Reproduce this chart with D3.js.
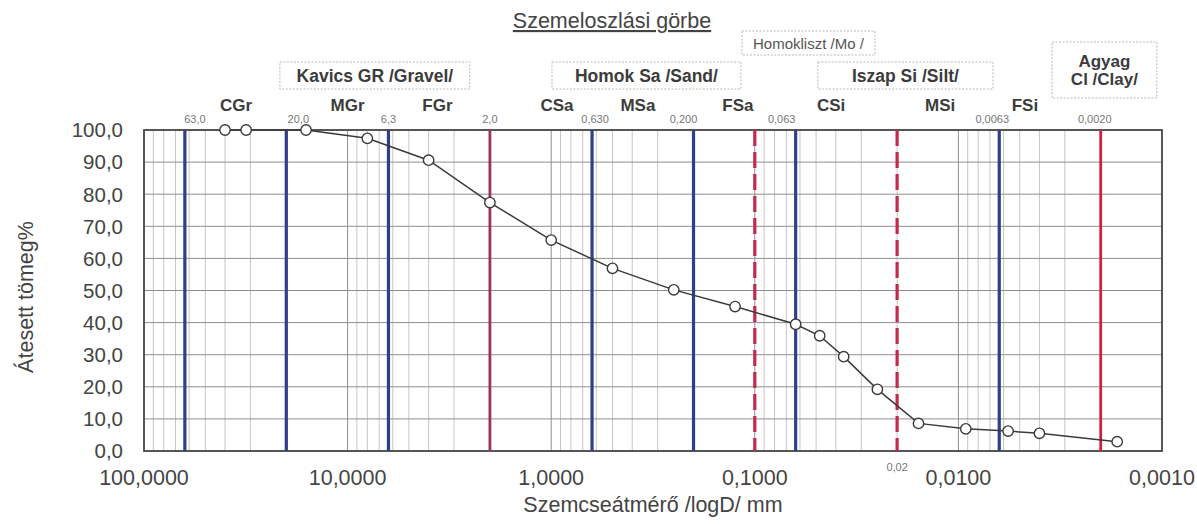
<!DOCTYPE html>
<html>
<head>
<meta charset="utf-8">
<script src="https://cdn.jsdelivr.net/npm/d3@7"></script>
<style>
  html, body { margin: 0; padding: 0; background: #fff; }
  svg { display: block; font-family: "Liberation Sans", Arial, sans-serif; }
</style>
</head>
<body>
<svg id="chart" width="1197" height="524"></svg>
<script>
// ---- data ----
const diameters = [40, 31.5, 16, 8, 4, 2, 1, 0.5, 0.25, 0.125, 0.063, 0.048, 0.0366, 0.025, 0.0157, 0.0092, 0.0057, 0.004, 0.00166];
const passing   = [100, 100, 100, 97.4, 90.6, 77.4, 65.7, 56.9, 50.2, 45.0, 39.5, 35.9, 29.4, 19.2, 8.6, 6.9, 6.2, 5.5, 2.9];

const yTicks = [0, 10, 20, 30, 40, 50, 60, 70, 80, 90, 100];
const xTicks = [100, 10, 1, 0.1, 0.01, 0.001];
const xTickLabels = ["100,0000", "10,0000", "1,0000", "0,1000", "0,0100", "0,0010"];

const blueBounds = [63, 20, 6.3, 0.63, 0.2, 0.063, 0.0063];
const redBounds = [2, 0.002];
const redDashedBounds = [0.1, 0.02];

const boundLabelValues = [63, 20, 6.3, 2, 0.63, 0.2, 0.063, 0.0063, 0.002];
const boundLabelTexts  = ["63,0", "20,0", "6,3", "2,0", "0,630", "0,200", "0,063", "0,0063", "0,0020"];
const siltClayLabel = ["0,02"];
const siltClayValue = [0.02];

const fractionNames   = ["CGr", "MGr", "FGr", "CSa", "MSa", "FSa", "CSi", "MSi", "FSi"];
const fractionAnchors = [35.3, 10.0, 3.62, 0.937, 0.375, 0.121, 0.0422, 0.0123, 0.00471];

const groupNames  = ["Kavics GR /Gravel/", "Homok Sa /Sand/", "Iszap Si /Silt/"];
const groupRanges = [[21.5, 2.51], [0.991, 0.117], [0.049, 0.00676]];
const moName = "Homokliszt /Mo /";
const moRange = [0.1156, 0.0257];
const clayLines = ["Agyag", "Cl /Clay/"];
const clayRange = [0.00347, 0.00106];

const title = "Szemeloszlási görbe";
const xTitle = "Szemcseátmérő /logD/ mm";
const yTitle = "Átesett tömeg%";

// ---- layout ----
const L = 144, R = 1162, T = 130, B = 451;
const svg = d3.select("#chart");

const x = d3.scaleLog().domain([100, 0.001]).range([L, R]);
const y = d3.scaleLinear().domain([0, 100]).range([B, T]);

// minor vertical gridlines (log 1..9 per decade)
const minor = [];
for (let e = -3; e < 2; e++) for (let m = 1; m <= 9; m++) minor.push(m * Math.pow(10, e));
minor.push(100);
const isDecade = d => Math.abs(Math.log10(d) - Math.round(Math.log10(d))) < 1e-9;
svg.append("g").selectAll("line").data(minor).join("line")
  .attr("x1", d => x(d)).attr("x2", d => x(d))
  .attr("y1", T).attr("y2", B)
  .attr("stroke", d => isDecade(d) ? "#8f8f8f" : "#c6c6c6")
  .attr("stroke-width", 1);

// horizontal gridlines
svg.append("g").selectAll("line").data(yTicks).join("line")
  .attr("x1", L).attr("x2", R)
  .attr("y1", d => y(d)).attr("y2", d => y(d))
  .attr("stroke", "#8f8f8f").attr("stroke-width", 1);

// plot frame
svg.append("rect").attr("x", L).attr("y", T).attr("width", R - L).attr("height", B - T)
  .attr("fill", "none").attr("stroke", "#4a4a4a").attr("stroke-width", 1.8);

// boundary lines
svg.append("g").selectAll("line").data(blueBounds).join("line")
  .attr("x1", d => x(d)).attr("x2", d => x(d)).attr("y1", T).attr("y2", B)
  .attr("stroke", "#2f3f8c").attr("stroke-width", 3.2);
svg.append("g").selectAll("line").data(redBounds).join("line")
  .attr("x1", d => x(d)).attr("x2", d => x(d)).attr("y1", T).attr("y2", B)
  .attr("stroke", (d, i) => i === 0 ? "#9c3550" : "#d0203f").attr("stroke-width", 2.8);
svg.append("g").selectAll("line").data(redDashedBounds).join("line")
  .attr("x1", d => x(d)).attr("x2", d => x(d)).attr("y1", T).attr("y2", B)
  .attr("stroke", "#c4284a").attr("stroke-width", 3.2)
  .attr("stroke-dasharray", "16,6");

// tick labels
svg.append("g").selectAll("text").data(yTicks).join("text")
  .attr("x", L - 21).attr("y", d => y(d)).attr("dy", "0.36em")
  .attr("text-anchor", "end").attr("font-size", 20.5).attr("fill", "#444")
  .text(d => d3.format(".1f")(d).replace(".", ","));

svg.append("g").selectAll("text").data(xTicks).join("text")
  .attr("x", d => x(d)).attr("y", B + 34)
  .attr("text-anchor", "middle").attr("font-size", 21.5).attr("fill", "#444")
  .text((d, i) => xTickLabels[i]);

// axis titles
svg.append("text").attr("x", (L + R) / 2).attr("y", B + 61)
  .attr("text-anchor", "middle").attr("font-size", 21.5).attr("fill", "#444").text(xTitle);

svg.append("text").attr("transform", `translate(33,297) rotate(-90)`)
  .attr("text-anchor", "middle").attr("font-size", 21.5).attr("fill", "#444").text(yTitle);

// curve
const pts = diameters.map((d, i) => [d, passing[i]]);
svg.append("path").datum(pts)
  .attr("d", d3.line().x(d => x(d[0])).y(d => y(d[1])))
  .attr("fill", "none").attr("stroke", "#3a3a3a").attr("stroke-width", 1.5);
svg.append("g").selectAll("circle").data(pts).join("circle")
  .attr("cx", d => x(d[0])).attr("cy", d => y(d[1])).attr("r", 5.2)
  .attr("fill", "#fff").attr("stroke", "#3a3a3a").attr("stroke-width", 1.4);

// boundary value labels (small, above plot)
const boundLabelShift = [10, 12, 0, 0, 3, -10, -14, -7, -6];
svg.append("g").selectAll("text").data(boundLabelValues).join("text")
  .attr("x", (d, i) => x(d) + boundLabelShift[i]).attr("y", T - 7)
  .attr("text-anchor", "middle").attr("font-size", 11).attr("fill", "#777")
  .text((d, i) => boundLabelTexts[i]);
svg.append("g").selectAll("text").data(siltClayValue).join("text")
  .attr("x", d => x(d)).attr("y", B + 20)
  .attr("text-anchor", "middle").attr("font-size", 11).attr("fill", "#777")
  .text((d, i) => siltClayLabel[i]);

// fraction names
svg.append("g").selectAll("text").data(fractionAnchors).join("text")
  .attr("x", d => x(d)).attr("y", T - 19)
  .attr("text-anchor", "middle").attr("font-size", 17).attr("font-weight", "bold").attr("fill", "#3c3c3c")
  .text((d, i) => fractionNames[i]);

// group boxes
const gBox = svg.append("g");
const boxStroke = "#b8b8b8";
groupRanges.forEach((r, i) => {
  const x0 = x(r[0]), x1 = x(r[1]);
  gBox.append("rect").attr("x", x0).attr("y", 62).attr("width", x1 - x0).attr("height", 27)
    .attr("fill", "#fff").attr("stroke", boxStroke).attr("stroke-dasharray", "2,1.5");
  gBox.append("text").attr("x", (x0 + x1) / 2).attr("y", 82)
    .attr("text-anchor", "middle").attr("font-size", 17.5).attr("font-weight", "bold").attr("fill", "#3c3c3c")
    .text(groupNames[i]);
});
{
  const x0 = x(moRange[0]), x1 = x(moRange[1]);
  gBox.append("rect").attr("x", x0).attr("y", 31).attr("width", x1 - x0).attr("height", 24)
    .attr("fill", "#fff").attr("stroke", boxStroke).attr("stroke-dasharray", "2,1.5");
  gBox.append("text").attr("x", (x0 + x1) / 2).attr("y", 49)
    .attr("text-anchor", "middle").attr("font-size", 15).attr("fill", "#555").text(moName);
}
{
  const x0 = x(clayRange[0]), x1 = x(clayRange[1]);
  gBox.append("rect").attr("x", x0).attr("y", 42).attr("width", x1 - x0).attr("height", 56)
    .attr("fill", "#fff").attr("stroke", boxStroke).attr("stroke-dasharray", "2,1.5");
  clayLines.forEach((t, i) => {
    gBox.append("text").attr("x", (x0 + x1) / 2).attr("y", 67 + i * 18)
      .attr("text-anchor", "middle").attr("font-size", 17).attr("font-weight", "bold").attr("fill", "#3c3c3c").text(t);
  });
}

// title
svg.append("text").attr("x", 612).attr("y", 28)
  .attr("text-anchor", "middle").attr("font-size", 21.5).attr("fill", "#444")
  .attr("text-decoration", "underline").text(title);
</script>
</body>
</html>
